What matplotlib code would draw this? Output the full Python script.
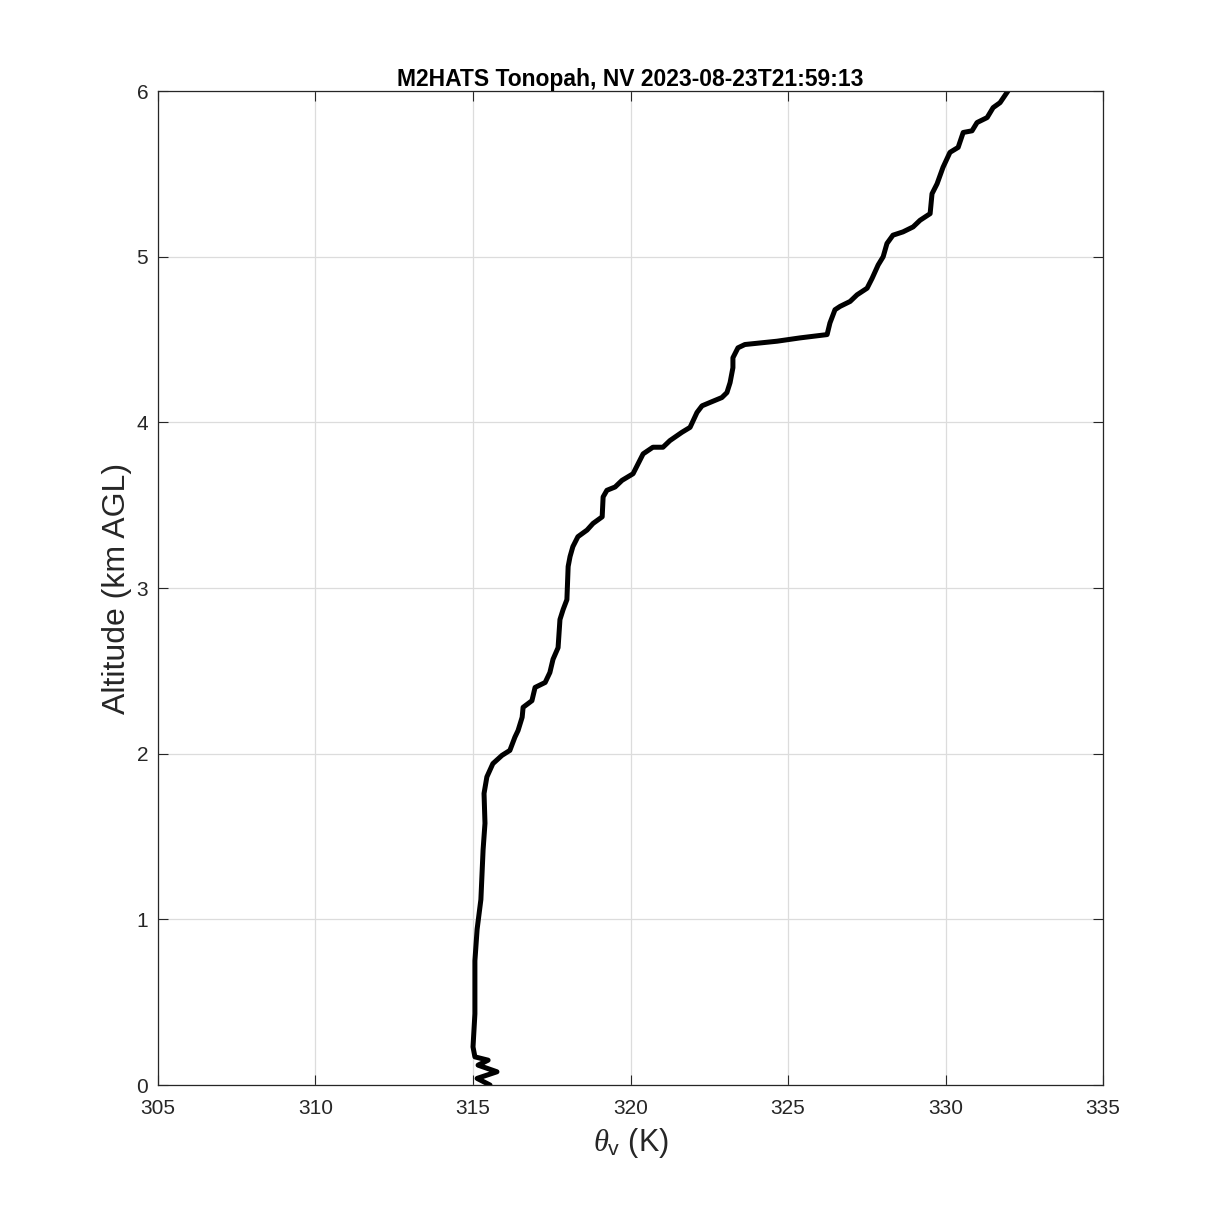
import matplotlib
matplotlib.use("Agg")
import matplotlib.pyplot as plt

plt.rcParams['font.family'] = ['Liberation Sans', 'DejaVu Sans']
plt.rcParams['mathtext.fontset'] = 'custom'
plt.rcParams['mathtext.rm'] = 'Liberation Sans'
plt.rcParams['mathtext.it'] = 'Liberation Serif:italic'

title = "M2HATS Tonopah, NV 2023-08-23T21:59:13"

theta_v = [315.54, 315.13, 315.76, 315.16, 315.48, 315.06, 315.00, 315.06, 315.06, 315.06,
           315.13, 315.25, 315.32, 315.38, 315.35, 315.44, 315.63, 315.92, 316.17, 316.33,
           316.43, 316.56, 316.59, 316.87, 316.97, 317.29, 317.44, 317.54, 317.70, 317.76,
           317.86, 317.98, 318.02, 318.08, 318.17, 318.33, 318.62, 318.81, 319.10, 319.13,
           319.25, 319.51, 319.73, 320.08, 320.40, 320.71, 321.03, 321.25, 321.63, 321.89,
           322.11, 322.27, 322.52, 322.90, 323.06, 323.16, 323.25, 323.25, 323.41, 323.63,
           324.65, 325.38, 326.24, 326.33, 326.49, 326.65, 326.97, 327.19, 327.51, 327.67,
           327.86, 328.02, 328.14, 328.33, 328.65, 328.97, 329.19, 329.51, 329.57, 329.73,
           329.92, 330.14, 330.40, 330.56, 330.84, 331.00, 331.32, 331.51, 331.73, 331.98]
alt_km = [0.00, 0.04, 0.08, 0.12, 0.15, 0.17, 0.23, 0.43, 0.51, 0.75,
          0.94, 1.12, 1.42, 1.58, 1.76, 1.86, 1.94, 1.99, 2.02, 2.10,
          2.14, 2.22, 2.28, 2.32, 2.40, 2.43, 2.49, 2.57, 2.64, 2.81,
          2.87, 2.93, 3.13, 3.19, 3.25, 3.31, 3.35, 3.39, 3.43, 3.55,
          3.59, 3.61, 3.65, 3.69, 3.81, 3.85, 3.85, 3.89, 3.94, 3.97,
          4.06, 4.10, 4.12, 4.15, 4.18, 4.24, 4.33, 4.39, 4.45, 4.47,
          4.49, 4.51, 4.53, 4.60, 4.68, 4.70, 4.73, 4.77, 4.81, 4.87,
          4.95, 5.00, 5.08, 5.13, 5.15, 5.18, 5.22, 5.26, 5.38, 5.44,
          5.54, 5.63, 5.66, 5.75, 5.76, 5.81, 5.84, 5.90, 5.93, 6.00]

xticks = [305, 310, 315, 320, 325, 330, 335]
yticks = [0, 1, 2, 3, 4, 5, 6]

fig = plt.figure(figsize=(12.19, 12.19), dpi=100)
ax = fig.add_axes([0.1296, 0.1099, 0.7753, 0.8154])
ax.plot(theta_v, alt_km, color='black', lw=3.6, solid_joinstyle='round', solid_capstyle='round')
ax.set_xlim(305, 335)
ax.set_ylim(0, 6)
ax.set_xticks(xticks)
ax.set_yticks(yticks)
ax.grid(True, color='#dcdcdc', lw=0.9)
ax.set_axisbelow(True)
ax.tick_params(direction='in', length=7, width=0.8, top=True, right=True,
               labelsize=15, colors='#262626', pad=7)
ax.tick_params(axis='x', pad=10)
for s in ax.spines.values():
    s.set_color('#262626')
    s.set_linewidth(0.9)
ax.set_title(title, fontsize=16.5, fontweight='bold', pad=4)
ax.set_xlabel(r'$\theta_{\rm v}$ (K)', fontsize=22, color='#262626', labelpad=6)
ax.set_ylabel('Altitude (km AGL)', fontsize=23, color='#262626', labelpad=3)
fig.savefig('out.png', dpi=100)
